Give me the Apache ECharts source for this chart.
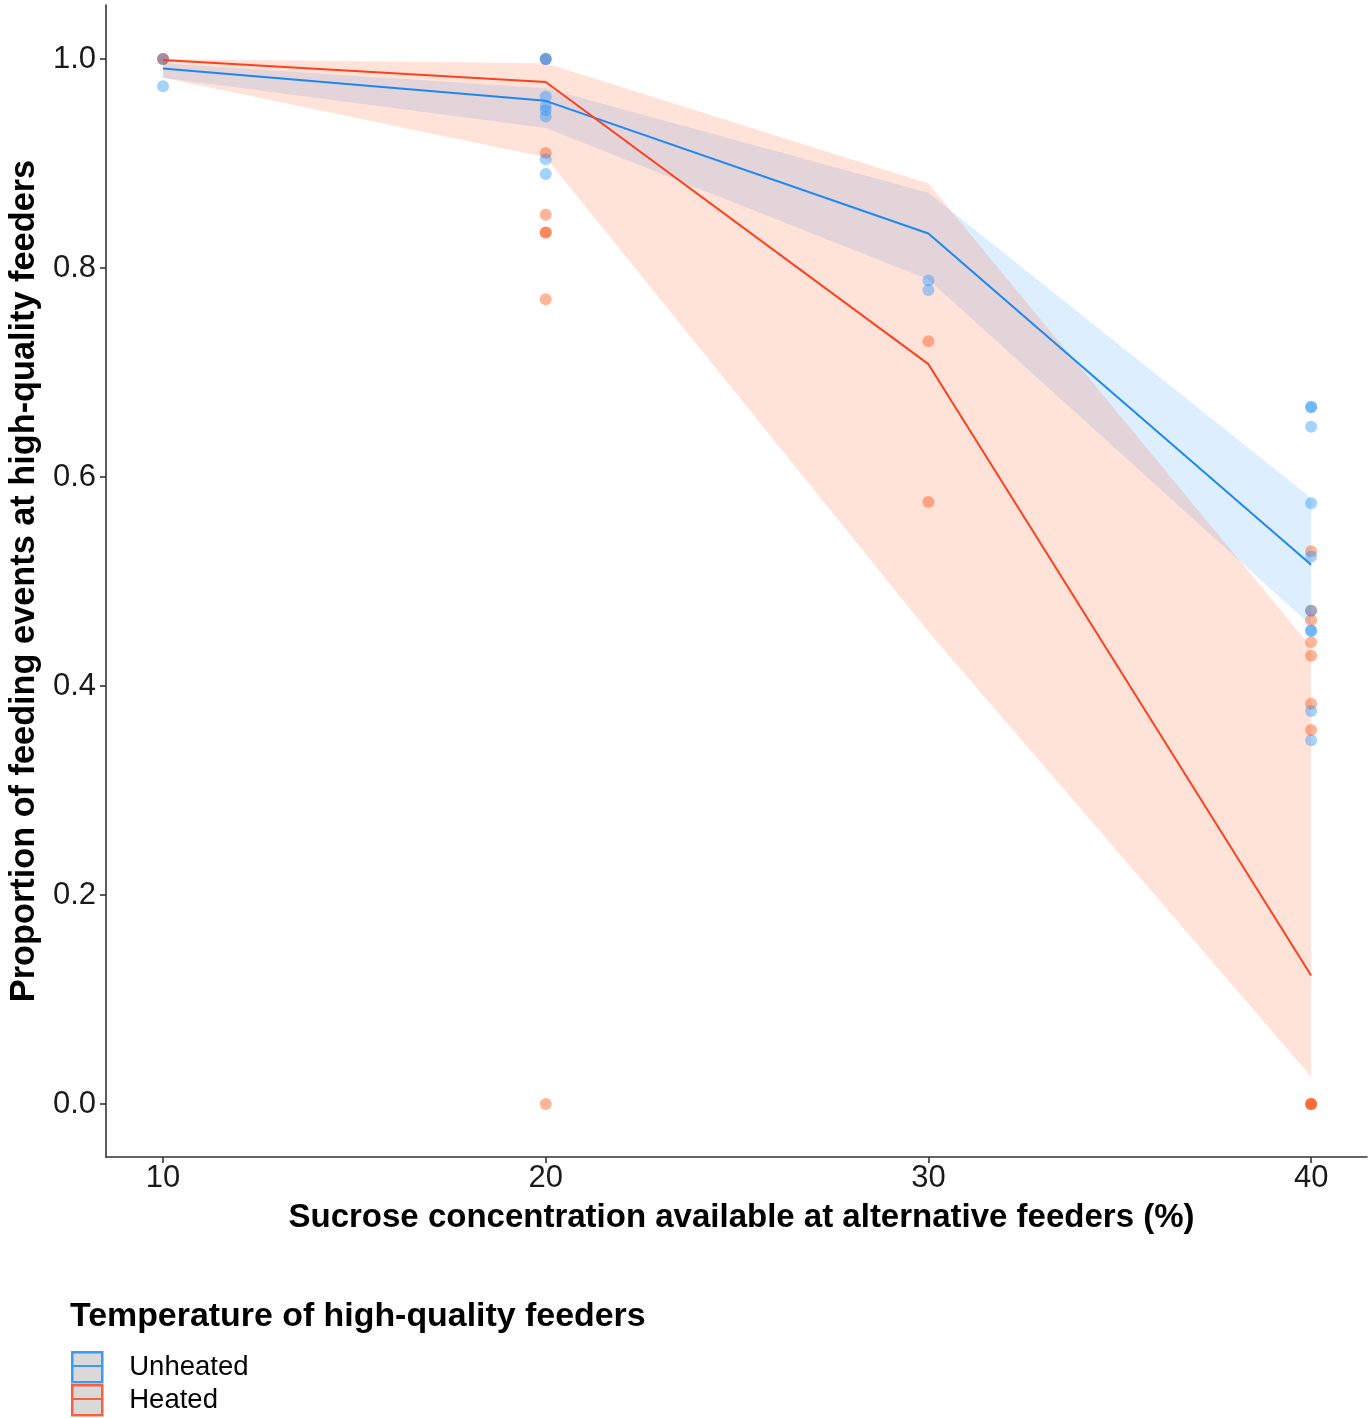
<!DOCTYPE html>
<html>
<head>
<meta charset="utf-8">
<script src="https://cdn.jsdelivr.net/npm/echarts@6/dist/echarts.min.js"></script>
<style>
html,body{margin:0;padding:0;background:#fff;}
#chart{width:1371px;height:1418px;}
</style>
</head>
<body>
<div id="chart"></div>
<script>
// ---- data ----
const xs = [10, 20, 30, 40];
const xTicks = [10, 20, 30, 40];
const yTicks = [0, 0.2, 0.4, 0.6, 0.8, 1.0];

const unheatedFit   = [0.991, 0.960, 0.833, 0.516];
const unheatedLower = [0.982, 0.934, 0.789, 0.458];
const unheatedUpper = [0.996, 0.972, 0.872, 0.580];

const heatedFit   = [0.999, 0.978, 0.708, 0.123];
const heatedLower = [0.982, 0.906, 0.452, 0.026];
const heatedUpper = [1.000, 0.996, 0.881, 0.437];

const unheated10 = [1.0, 0.974];
const heated10   = [1.0, 1.0];
const unheated20 = [1.0, 1.0, 0.964, 0.955, 0.951, 0.945, 0.904, 0.890];
const heated20   = [1.0, 0.910, 0.851, 0.834, 0.834, 0.770, 0.0];
const unheated30 = [0.788, 0.779];
const heated30   = [0.730, 0.576];
const unheated40 = [0.667, 0.667, 0.648, 0.575, 0.524, 0.472, 0.453, 0.453, 0.376, 0.348];
const heated40   = [0.529, 0.472, 0.463, 0.442, 0.429, 0.383, 0.358, 0.0, 0.0, 0.0];

const legendTitle = 'Temperature of high-quality feeders';
const xTitle = 'Sucrose concentration available at alternative feeders (%)';
const yTitle = 'Proportion of feeding events at high-quality feeders';

// ---- build ----
function pts(x, arr) { return arr.map(v => [x, v]); }
const unheatedPts = [].concat(pts(10, unheated10), pts(20, unheated20), pts(30, unheated30), pts(40, unheated40));
const heatedPts = [].concat(pts(10, heated10), pts(20, heated20), pts(30, heated30), pts(40, heated40));

function ribbon(lower, upper, fill) {
  return {
    type: 'custom',
    silent: true,
    data: xs.map((x, i) => [x, lower[i], upper[i]]),
    encode: { x: 0, y: [1, 2] },
    renderItem: function (params, api) {
      if (params.dataIndex !== 0) return null;
      const p = [];
      for (let i = 0; i < xs.length; i++) p.push(api.coord([xs[i], upper[i]]));
      for (let i = xs.length - 1; i >= 0; i--) p.push(api.coord([xs[i], lower[i]]));
      return { type: 'polygon', shape: { points: p }, style: { fill: fill } };
    }
  };
}

const BLUE = '#1e88f0';
const RED = '#ff4020';
const KEY_BLUE = '#3a9af8';
const KEY_RED = '#f86040';
const FONT = '"Liberation Sans", Arial, Helvetica, sans-serif';

function legendItem(name, border, top) {
  return {
    orient: 'vertical',
    left: 71, top: top,
    padding: 0,
    itemWidth: 30, itemHeight: 30,
    icon: 'rect',
    selectedMode: false,
    textStyle: { fontFamily: FONT, fontSize: 27.5, color: '#000', padding: [0, 0, 0, 22] },
    data: [{ name: name, itemStyle: { color: '#d9d9d9', borderColor: border, borderWidth: 2.5 } }]
  };
}

const chart = echarts.init(document.getElementById('chart'), null, { renderer: 'canvas' });
const option = {
  animation: false,
  backgroundColor: '#ffffff',
  textStyle: { fontFamily: FONT },
  grid: { left: 105, right: 4, top: 5, bottom: 261, containLabel: false },
  title: {
    text: legendTitle,
    left: 70, top: 1298,
    padding: 0,
    textStyle: { fontFamily: FONT, fontSize: 33.9, fontWeight: 'bold', color: '#000', lineHeight: 38 }
  },
  legend: [
    legendItem('Unheated', KEY_BLUE, 1351),
    legendItem('Heated', KEY_RED, 1384)
  ],
  graphic: [
    { type: 'line', shape: { x1: 73, y1: 1366, x2: 101, y2: 1366 }, style: { stroke: KEY_BLUE, lineWidth: 2 }, silent: true, z: 100 },
    { type: 'line', shape: { x1: 73, y1: 1399, x2: 101, y2: 1399 }, style: { stroke: KEY_RED, lineWidth: 2 }, silent: true, z: 100 }
  ],
  xAxis: {
    type: 'value',
    min: 8.51, max: 41.46,
    name: xTitle,
    nameLocation: 'middle',
    nameGap: 44,
    nameTextStyle: { fontFamily: FONT, fontSize: 33, fontWeight: 'bold', color: '#000', padding: [0, 0, 0, 10] },
    axisLine: { show: true, onZero: false, lineStyle: { color: '#333', width: 1.6 } },
    axisTick: { show: true, customValues: xTicks, length: 6, lineStyle: { color: '#333', width: 1.6 } },
    axisLabel: { customValues: xTicks, fontSize: 31, color: '#1a1a1a', margin: 6, fontFamily: FONT },
    splitLine: { show: false }
  },
  yAxis: {
    type: 'value',
    min: -0.0507, max: 1.0517,
    name: yTitle,
    nameLocation: 'middle',
    nameGap: 62,
    nameRotate: 90,
    nameTextStyle: { fontFamily: FONT, fontSize: 34.3, fontWeight: 'bold', color: '#000' },
    axisLine: { show: true, onZero: false, lineStyle: { color: '#333', width: 1.6 } },
    axisTick: { show: true, customValues: yTicks, length: 6, lineStyle: { color: '#333', width: 1.6 } },
    axisLabel: { customValues: yTicks, fontSize: 31, color: '#1a1a1a', margin: 10, fontFamily: FONT,
      formatter: v => Number(v).toFixed(1) },
    splitLine: { show: false }
  },
  series: [
    ribbon(unheatedLower, unheatedUpper, 'rgba(30,144,255,0.15)'),
    {
      name: 'Unheated', type: 'line', data: xs.map((x, i) => [x, unheatedFit[i]]),
      showSymbol: false, symbol: 'none', silent: true,
      lineStyle: { color: BLUE, width: 2 }, itemStyle: { color: BLUE }
    },
    ribbon(heatedLower, heatedUpper, 'rgba(255,69,0,0.15)'),
    {
      name: 'Heated', type: 'line', data: xs.map((x, i) => [x, heatedFit[i]]),
      showSymbol: false, symbol: 'none', silent: true,
      lineStyle: { color: RED, width: 2 }, itemStyle: { color: RED }
    },
    {
      name: 'HeatedPts', type: 'scatter', data: heatedPts, symbolSize: 12, silent: true,
      itemStyle: { color: 'rgba(255,69,0,0.5)' }
    },
    {
      name: 'UnheatedPts', type: 'scatter', data: unheatedPts, symbolSize: 12, silent: true,
      itemStyle: { color: 'rgba(30,144,255,0.5)' }
    }
  ]
};
chart.setOption(option);
</script>
</body>
</html>
